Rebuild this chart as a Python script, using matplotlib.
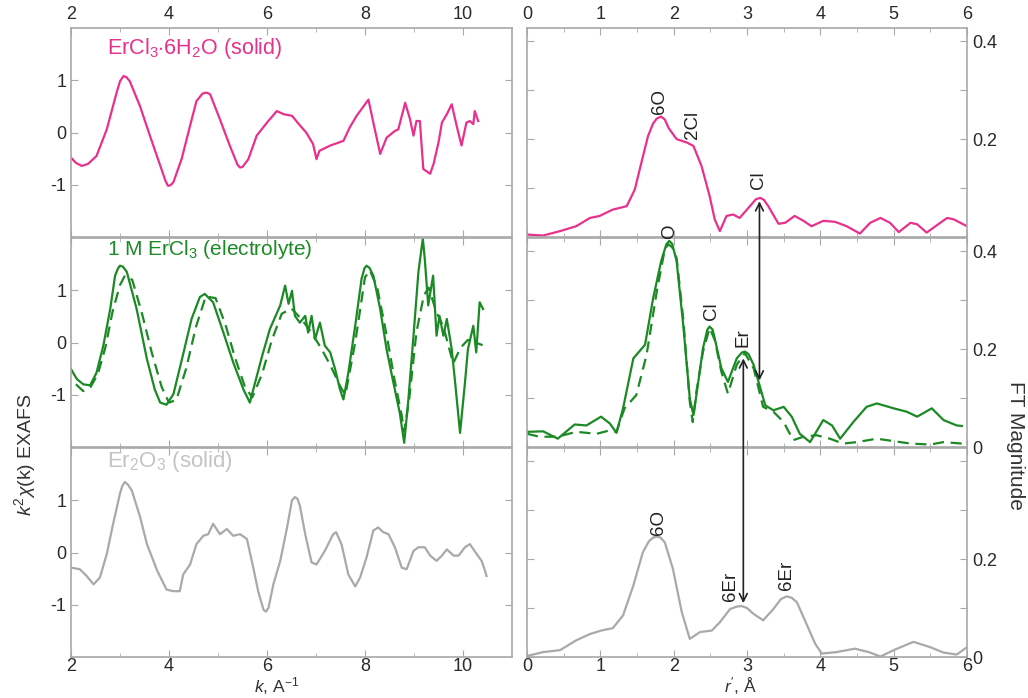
import numpy as np
import matplotlib.pyplot as plt
from matplotlib.patches import ConnectionPatch

plt.rcParams['font.family'] = ['Liberation Sans', 'DejaVu Sans']
plt.rcParams['mathtext.fontset'] = 'custom'
plt.rcParams['mathtext.rm'] = 'Liberation Sans'
plt.rcParams['mathtext.it'] = 'Liberation Sans:italic'
plt.rcParams['mathtext.bf'] = 'Liberation Sans:bold'
plt.rcParams['axes.unicode_minus'] = False

# ---- k-space EXAFS (left column) ----
k_solid = [2.0, 2.1, 2.22, 2.35, 2.52, 2.73, 2.93, 3.0, 3.07, 3.13, 3.2, 3.41, 3.61, 3.82,
           3.93, 3.98, 4.03, 4.09, 4.26, 4.43, 4.56, 4.68, 4.73, 4.78, 4.84, 5.04, 5.24,
           5.4, 5.45, 5.5, 5.62, 5.79, 6.0, 6.2, 6.34, 6.51, 6.65, 6.8, 6.94, 7.01, 7.07,
           7.29, 7.56, 7.69, 7.83, 7.97, 8.07, 8.17, 8.31, 8.44, 8.61, 8.68, 8.82, 8.92,
           8.99, 9.05, 9.12, 9.19, 9.33, 9.4, 9.5, 9.57, 9.67, 9.77, 9.87, 9.97, 10.07,
           10.14, 10.21, 10.24, 10.31]
chi_solid = [-0.48, -0.58, -0.64, -0.6, -0.45, 0.06, 0.76, 0.98, 1.08, 1.06, 0.98, 0.5,
             -0.06, -0.63, -0.93, -1.02, -1.01, -0.95, -0.5, 0.13, 0.6, 0.74, 0.76, 0.76,
             0.73, 0.25, -0.25, -0.62, -0.67, -0.66, -0.51, -0.06, 0.19, 0.41, 0.35, 0.32,
             0.16, 0.0, -0.22, -0.51, -0.35, -0.25, -0.16, 0.1, 0.32, 0.5, 0.63, 0.19,
             -0.41, -0.1, 0.03, 0.06, 0.57, 0.25, -0.06, 0.22, 0.22, -0.7, -0.79, -0.6,
             -0.19, 0.19, 0.35, 0.54, 0.13, -0.25, 0.19, 0.22, 0.16, 0.41, 0.22]

k_elec = [2.0, 2.12, 2.25, 2.39, 2.52, 2.66, 2.8, 2.9, 2.96, 3.0, 3.06, 3.14, 3.34, 3.55,
          3.71, 3.82, 3.95, 4.09, 4.29, 4.46, 4.63, 4.73, 4.9, 5.11, 5.31, 5.52, 5.65,
          5.72, 5.9, 6.06, 6.27, 6.37, 6.44, 6.51, 6.57, 6.67, 6.78, 6.84, 6.91, 6.98,
          7.08, 7.18, 7.29, 7.39, 7.49, 7.56, 7.66, 7.8, 7.93, 7.99, 8.03, 8.09, 8.17,
          8.31, 8.44, 8.58, 8.71, 8.8, 8.88, 8.99, 9.09, 9.18, 9.22, 9.29, 9.39, 9.46,
          9.52, 9.6, 9.67, 9.77, 9.84, 9.94, 10.04, 10.1, 10.21, 10.27, 10.34, 10.41]
chi_elec = [-0.51, -0.7, -0.8, -0.82, -0.58, -0.06, 0.64, 1.28, 1.42, 1.47, 1.45, 1.35,
            0.64, -0.32, -0.9, -1.15, -1.19, -0.99, -0.22, 0.45, 0.87, 0.93, 0.77, 0.19,
            -0.38, -0.9, -1.15, -0.9, -0.26, 0.26, 0.71, 1.09, 0.74, 0.99, 0.51, 0.38,
            0.51, 0.19, 0.51, 0.06, 0.38, -0.06, -0.19, -0.51, -0.9, -1.09, -0.58, 0.32,
            1.22, 1.42, 1.47, 1.43, 1.28, 0.64, -0.13, -0.77, -1.35, -1.92, -1.15, 0.13,
            1.35, 1.99, 1.6, 0.71, 1.28, 0.13, 0.51, 0.13, 0.45, -0.13, -0.77, -1.73,
            -0.77, -0.13, 0.32, -0.19, 0.77, 0.64]

k_elec_fit = [2.1, 2.25, 2.4, 2.55, 2.7, 2.85, 3.0, 3.1, 3.25, 3.45, 3.65, 3.85, 4.0, 4.15,
              4.35, 4.55, 4.75, 4.95, 5.15, 5.35, 5.55, 5.7, 5.9, 6.1, 6.3, 6.5, 6.7, 6.9,
              7.1, 7.3, 7.5, 7.6, 7.8, 8.0, 8.1, 8.25, 8.45, 8.6, 8.75, 8.8, 8.9, 9.05, 9.2,
              9.3, 9.45, 9.6, 9.8, 9.95, 10.1, 10.25, 10.4]
chi_elec_fit = [-0.8, -0.93, -0.85, -0.6, -0.1, 0.6, 1.1, 1.28, 1.2, 0.55, -0.2, -0.85,
                -1.15, -1.1, -0.5, 0.3, 0.88, 0.85, 0.35, -0.3, -0.85, -1.05, -0.6, 0.05,
                0.55, 0.65, 0.45, 0.2, -0.1, -0.45, -0.85, -1.0, 0.0, 1.25, 1.38, 1.05, 0.1,
                -0.7, -1.4, -1.7, -1.1, 0.2, 0.9, 1.05, 0.6, 0.3, -0.4, -0.1, 0.05, 0.0, -0.05]

k_oxide = [2.0, 2.18, 2.32, 2.46, 2.59, 2.73, 2.86, 3.0, 3.05, 3.1, 3.16, 3.24, 3.41, 3.55,
           3.76, 3.95, 4.09, 4.22, 4.29, 4.43, 4.56, 4.7, 4.8, 4.9, 5.04, 5.18, 5.31, 5.45,
           5.59, 5.72, 5.82, 5.93, 5.98, 6.03, 6.13, 6.27, 6.41, 6.51, 6.57, 6.62, 6.67,
           6.78, 6.91, 7.01, 7.18, 7.35, 7.41, 7.52, 7.66, 7.8, 7.9, 8.03, 8.17, 8.27,
           8.37, 8.48, 8.61, 8.75, 8.85, 8.99, 9.09, 9.22, 9.33, 9.46, 9.57, 9.67, 9.81,
           9.91, 10.04, 10.14, 10.28, 10.38, 10.45, 10.48]
chi_oxide = [-0.29, -0.32, -0.45, -0.61, -0.48, -0.03, 0.55, 1.13, 1.28, 1.35, 1.3, 1.19,
             0.68, 0.16, -0.35, -0.71, -0.74, -0.74, -0.42, -0.23, 0.16, 0.32, 0.35, 0.55,
             0.35, 0.45, 0.32, 0.35, 0.26, -0.29, -0.74, -1.1, -1.13, -1.06, -0.61, -0.16,
             0.48, 1.0, 1.06, 1.03, 0.9, 0.35, -0.19, -0.23, 0.03, 0.35, 0.39, 0.16, -0.42,
             -0.65, -0.48, -0.1, 0.42, 0.48, 0.39, 0.35, 0.1, -0.29, -0.32, 0.03, 0.1, 0.1,
             -0.06, -0.16, -0.06, 0.06, -0.06, -0.06, 0.1, 0.16, -0.03, -0.16, -0.35, -0.45]

# ---- Fourier transforms (right column) ----
r_solid = [0.0, 0.22, 0.45, 0.67, 0.86, 0.99, 1.17, 1.36, 1.47, 1.56, 1.65, 1.72, 1.77,
           1.83, 1.88, 1.93, 2.04, 2.18, 2.27, 2.38, 2.49, 2.56, 2.63, 2.72, 2.81, 2.9,
           3.04, 3.12, 3.18, 3.23, 3.29, 3.43, 3.52, 3.65, 3.77, 3.88, 4.04, 4.2, 4.36,
           4.54, 4.68, 4.82, 4.95, 5.07, 5.23, 5.32, 5.45, 5.57, 5.73, 5.82, 6.0]
ft_solid = [0.005, 0.003, 0.012, 0.022, 0.039, 0.043, 0.056, 0.063, 0.097, 0.152, 0.206,
            0.232, 0.242, 0.246, 0.24, 0.223, 0.2, 0.193, 0.186, 0.145, 0.084, 0.036,
            0.012, 0.043, 0.046, 0.039, 0.063, 0.077, 0.08, 0.076, 0.063, 0.027, 0.029,
            0.043, 0.033, 0.022, 0.033, 0.031, 0.022, 0.007, 0.029, 0.039, 0.029, 0.01,
            0.029, 0.026, 0.009, 0.022, 0.039, 0.036, 0.022]

r_elec = [0.0, 0.22, 0.42, 0.65, 0.81, 1.01, 1.13, 1.22, 1.31, 1.45, 1.61, 1.72, 1.83,
          1.9, 1.94, 1.98, 2.04, 2.13, 2.22, 2.27, 2.31, 2.4, 2.46, 2.49, 2.53, 2.56,
          2.65, 2.74, 2.86, 2.93, 2.97, 3.02, 3.09, 3.25, 3.36, 3.5, 3.61, 3.72, 3.86,
          4.04, 4.16, 4.27, 4.45, 4.63, 4.77, 5.0, 5.18, 5.32, 5.52, 5.68, 5.86, 5.93]
ft_elec = [0.031, 0.032, 0.017, 0.046, 0.044, 0.062, 0.048, 0.029, 0.079, 0.181, 0.209,
           0.304, 0.38, 0.414, 0.421, 0.415, 0.38, 0.25, 0.099, 0.065, 0.106, 0.202,
           0.24, 0.246, 0.24, 0.222, 0.161, 0.133, 0.181, 0.193, 0.195, 0.19, 0.168,
           0.085, 0.075, 0.082, 0.062, 0.027, 0.01, 0.055, 0.044, 0.017, 0.051, 0.082,
           0.089, 0.079, 0.072, 0.062, 0.079, 0.055, 0.044, 0.043]

r_elec_fit = [0.0, 0.17, 0.42, 0.67, 0.95, 1.13, 1.22, 1.33, 1.49, 1.63, 1.77, 1.88, 1.93,
              1.98, 2.04, 2.13, 2.22, 2.26, 2.31, 2.4, 2.49, 2.56, 2.65, 2.74, 2.86, 2.97,
              3.09, 3.22, 3.36, 3.5, 3.63, 3.77, 3.95, 4.13, 4.31, 4.5, 4.77, 5.0, 5.23,
              5.5, 5.68, 5.93]
ft_elec_fit = [0.027, 0.021, 0.021, 0.031, 0.027, 0.034, 0.031, 0.079, 0.106, 0.188,
               0.318, 0.405, 0.414, 0.408, 0.386, 0.263, 0.092, 0.051, 0.113, 0.195,
               0.243, 0.219, 0.154, 0.109, 0.168, 0.192, 0.161, 0.082, 0.072, 0.051,
               0.014, 0.021, 0.024, 0.017, 0.007, 0.01, 0.017, 0.012, 0.007, 0.005,
               0.01, 0.007]

r_oxide = [0.0, 0.22, 0.45, 0.67, 0.86, 1.01, 1.17, 1.31, 1.45, 1.58, 1.66, 1.72, 1.77,
           1.82, 1.88, 1.99, 2.11, 2.22, 2.36, 2.52, 2.63, 2.77, 2.86, 2.93, 3.0, 3.09,
           3.22, 3.36, 3.46, 3.54, 3.61, 3.68, 3.81, 3.93, 4.02, 4.22, 4.47, 4.66, 4.82,
           5.0, 5.27, 5.5, 5.68, 5.86, 6.0]
ft_oxide = [0.002, 0.01, 0.014, 0.034, 0.047, 0.054, 0.059, 0.085, 0.146, 0.214, 0.236,
            0.244, 0.246, 0.244, 0.234, 0.18, 0.092, 0.037, 0.051, 0.054, 0.071, 0.098,
            0.103, 0.104, 0.1, 0.088, 0.075, 0.098, 0.118, 0.124, 0.121, 0.112, 0.068,
            0.027, 0.007, 0.01, 0.017, 0.01, 0.001, 0.014, 0.031, 0.02, 0.009, 0.005, 0.02]

pink = '#e8318c'
green = '#1b8a24'
grey = '#a9a9a9'
frame = '#a8a8a8'
tickc = '#2a2a2a'

fig = plt.figure(figsize=(10.28, 6.98), dpi=100)

W, H = 1028.0, 698.0
row_bottoms = [1 - 237/H, 1 - 447/H, 1 - 657/H]
row_h = 209/H
left_ax = [fig.add_axes([71/W, b, 441/W, row_h]) for b in row_bottoms]
right_ax = [fig.add_axes([527/W, b, 440/W, row_h]) for b in row_bottoms]


def style(ax):
    for s in ax.spines.values():
        s.set_color(frame)
        s.set_linewidth(1.2)
    ax.tick_params(which='both', direction='in', color=frame, labelcolor=tickc,
                   labelsize=13, top=True, bottom=True, left=True, right=True,
                   labeltop=False, labelbottom=False, labelleft=False, labelright=False)
    ax.tick_params(which='major', length=5)
    ax.tick_params(which='minor', length=3)


# left column
left_data = [(k_solid, chi_solid, pink), (k_elec, chi_elec, green), (k_oxide, chi_oxide, grey)]
for ax, (kk, cc, col) in zip(left_ax, left_data):
    ax.plot(kk, cc, color=col, lw=1.6)
    ax.set_xlim(2, 11)
    ax.set_ylim(-2, 2)
    style(ax)
    ax.set_xticks([2, 4, 6, 8, 10])
    ax.set_xticks([3, 5, 7, 9], minor=True)
    ax.set_yticks([-1, 0, 1])
    ax.tick_params(labelleft=True)
left_ax[1].plot(k_elec_fit, chi_elec_fit, color=green, lw=1.6, ls=(0, (5, 3)))
left_ax[0].tick_params(labeltop=True)
left_ax[2].tick_params(axis='x', labelbottom=True, pad=1)

left_ax[0].text(2.73, 1.6, r'ErCl$_3$$\cdot$6H$_2$O (solid)', color=pink, fontsize=15.5, va='center')
left_ax[1].text(2.73, 1.78, r'1 M ErCl$_3$ (electrolyte)', color=green, fontsize=15, va='center')
left_ax[2].text(2.73, 1.75, r'Er$_2$O$_3$ (solid)', color='#c4c4c4', fontsize=16, va='center')

# right column
right_data = [(r_solid, ft_solid, pink), (r_elec, ft_elec, green), (r_oxide, ft_oxide, grey)]
ylabels = [['', '', '0.2', '', '0.4'], ['0', '', '0.2', '', '0.4'], ['0', '', '0.2', '', '']]
for ax, (rr, ff, col), lab in zip(right_ax, right_data, ylabels):
    ax.plot(rr, ff, color=col, lw=1.6)
    ax.set_xlim(0, 6)
    ax.set_ylim(0, 0.427)
    style(ax)
    ax.set_xticks(range(7))
    ax.set_xticks(np.arange(0.5, 6, 1.0), minor=True)
    ax.set_yticks([0, 0.1, 0.2, 0.3, 0.4])
    ax.set_yticklabels(lab)
    ax.tick_params(labelright=True)
right_ax[1].plot(r_elec_fit, ft_elec_fit, color=green, lw=1.6, ls=(0, (5, 3)))
right_ax[0].tick_params(labeltop=True)
right_ax[2].tick_params(axis='x', labelbottom=True, pad=1)

# peak labels
peak_labels = [
    (0, 1.81, 0.252, '6O'), (0, 2.26, 0.2, '2Cl'), (0, 3.15, 0.099, 'Cl'),
    (1, 1.95, 0.424, 'O'), (1, 2.52, 0.26, 'Cl'), (1, 2.95, 0.205, 'Er'),
    (2, 1.79, 0.25, '6O'), (2, 2.77, 0.115, '6Er'), (2, 3.54, 0.136, '6Er'),
]
for i, x, y, t in peak_labels:
    right_ax[i].text(x, y, t, rotation=90, ha='center', va='bottom', fontsize=13.5,
                     color='#222222', clip_on=False)

# arrows between panels
arrows = [(0, 3.17, 0.073, 1, 3.17, 0.136), (1, 2.95, 0.181, 2, 2.95, 0.11)]
for ia, xa, ya, ib, xb, yb in arrows:
    con = ConnectionPatch(xyA=(xa, ya), coordsA=right_ax[ia].transData,
                          xyB=(xb, yb), coordsB=right_ax[ib].transData,
                          arrowstyle='<->', color='#222222', lw=1.2, mutation_scale=14)
    fig.add_artist(con)

# axis titles
fig.text(25/W, 1 - 455/H, r'$k^2$$\chi$(k) EXAFS', rotation=90, ha='center', va='center',
         fontsize=14, color='#333333')
fig.text(1015/W, 1 - 445/H, 'FT Magnitude', rotation=270, ha='center', va='center',
         fontsize=15, color='#333333')
fig.text(277/W, 1 - 697/H, r'$k$, A$^{-1}$', ha='center', va='bottom', fontsize=12.5,
         color='#333333')
fig.text(740/W, 1 - 697/H, r"$r'$, Å", ha='center', va='bottom', fontsize=12.5,
         color='#333333')

fig.savefig('out.png', dpi=100)
